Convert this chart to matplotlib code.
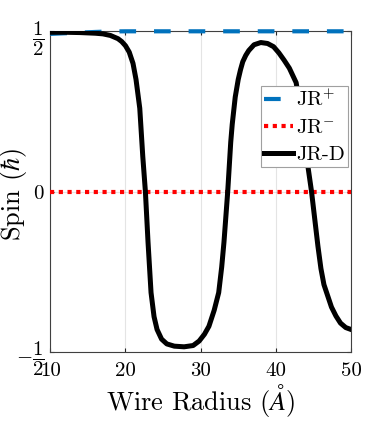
import matplotlib
matplotlib.use('Agg')
import matplotlib.pyplot as plt


# ----------------------------------------------------------------------------------------
#                             DATA AREA

radius_plus = [10, 12, 14, 16, 18, 20, 30, 40, 50]
spin_plus   = [0.492, 0.494, 0.496, 0.498, 0.4995, 0.5, 0.5, 0.5, 0.5]

radius_minus = [10, 50]
spin_minus   = [0.0, 0.0]

radius_d = [10, 12, 14, 16, 17, 18, 19, 19.5, 20, 20.5, 21, 21.4, 21.9, 22.3, 22.65,
            23.0, 23.4, 23.8, 24.2, 24.8, 25.5, 26.5, 27.8, 29.0, 29.8, 30.5, 31.1,
            31.8, 32.4, 32.8, 33.1, 33.6, 34.0, 34.2, 34.6, 35.0, 35.3, 35.6, 36.0,
            36.4, 37.1, 38.0, 38.9, 39.7, 40.4, 41.1, 41.8, 42.3, 42.7, 43.2, 43.7,
            44.2, 44.75, 45.0, 45.3, 45.6, 46.0, 46.4, 46.9, 47.4, 48.0, 48.6, 49.3,
            50.0]
spin_d   = [0.497, 0.497, 0.496, 0.494, 0.492, 0.487, 0.477, 0.468, 0.455, 0.435, 0.40,
            0.35, 0.26, 0.11, 0.0, -0.158, -0.315, -0.39, -0.43, -0.46, -0.475, -0.482,
            -0.484, -0.48, -0.466, -0.445, -0.42, -0.37, -0.315, -0.235, -0.158, 0.0,
            0.154, 0.21, 0.295, 0.35, 0.38, 0.405, 0.425, 0.44, 0.458, 0.465, 0.462,
            0.452, 0.433, 0.41, 0.385, 0.36, 0.34, 0.27, 0.18, 0.09, 0.0, -0.05, -0.11,
            -0.17, -0.24, -0.29, -0.325, -0.36, -0.388, -0.41, -0.424, -0.43]

x_ticks  = [10, 20, 30, 40, 50]
y_ticks  = [-0.5, 0, 0.5]
y_labels = [r'$-\dfrac{1}{2}$', r'$0$', r'$\dfrac{1}{2}$']


# ----------------------------------------------------------------------------------------
#                             PLOTTING AREA

plt.rcParams['font.family'] = 'serif'
plt.rcParams['font.serif'] = ['cmr10', 'DejaVu Serif']
plt.rcParams['mathtext.fontset'] = 'cm'
plt.rcParams['axes.unicode_minus'] = False

fig = plt.figure(figsize=(3.9, 4.23), dpi=100)
ax = fig.add_axes([0.129, 0.168, 0.771, 0.758])

ax.plot(radius_plus, spin_plus, color='#0072BD', lw=3, dashes=(4, 4.3),
        dash_capstyle='butt', clip_on=False, label=r'JR$^{+}$', zorder=3)
ax.plot(radius_minus, spin_minus, color='#FF0000', lw=3, dashes=(1, 1.1),
        dash_capstyle='butt', label=r'JR$^{-}$', zorder=3)
ax.plot(radius_d, spin_d, color='black', lw=3.6, label='JR-D', zorder=4)

ax.set_xlim(10, 50)
ax.set_ylim(-0.5, 0.5)
ax.set_xticks(x_ticks)
ax.set_yticks(y_ticks)
ax.set_yticklabels(y_labels)
ax.tick_params(direction='in', length=3, labelsize=15, colors='#262626',
               top=True, right=True)
ax.tick_params(axis='x', pad=7)
ax.tick_params(axis='y', pad=4)
for lbl in ax.get_xticklabels() + ax.get_yticklabels():
    lbl.set_color('black')

ax.grid(True, color='#262626', alpha=0.12, lw=0.8)
for s in ax.spines.values():
    s.set_color('#404040')
    s.set_linewidth(0.8)

ax.set_xlabel(r'Wire Radius ($\mathit{\AA}$)', fontsize=19, labelpad=2)
ax.set_ylabel(r'Spin ($\hbar$)', fontsize=19)
ax.yaxis.set_label_coords(-0.072, 0.49)

leg = ax.legend(loc='upper right', bbox_to_anchor=(0.99, 0.83), borderaxespad=0,
                fontsize=15, fancybox=False, framealpha=1, edgecolor='#a0a0a0',
                handlelength=1.4, handletextpad=0.15, labelspacing=0.4,
                borderpad=0.15)
leg.get_frame().set_linewidth(0.8)

fig.savefig('out.png', dpi=100)
